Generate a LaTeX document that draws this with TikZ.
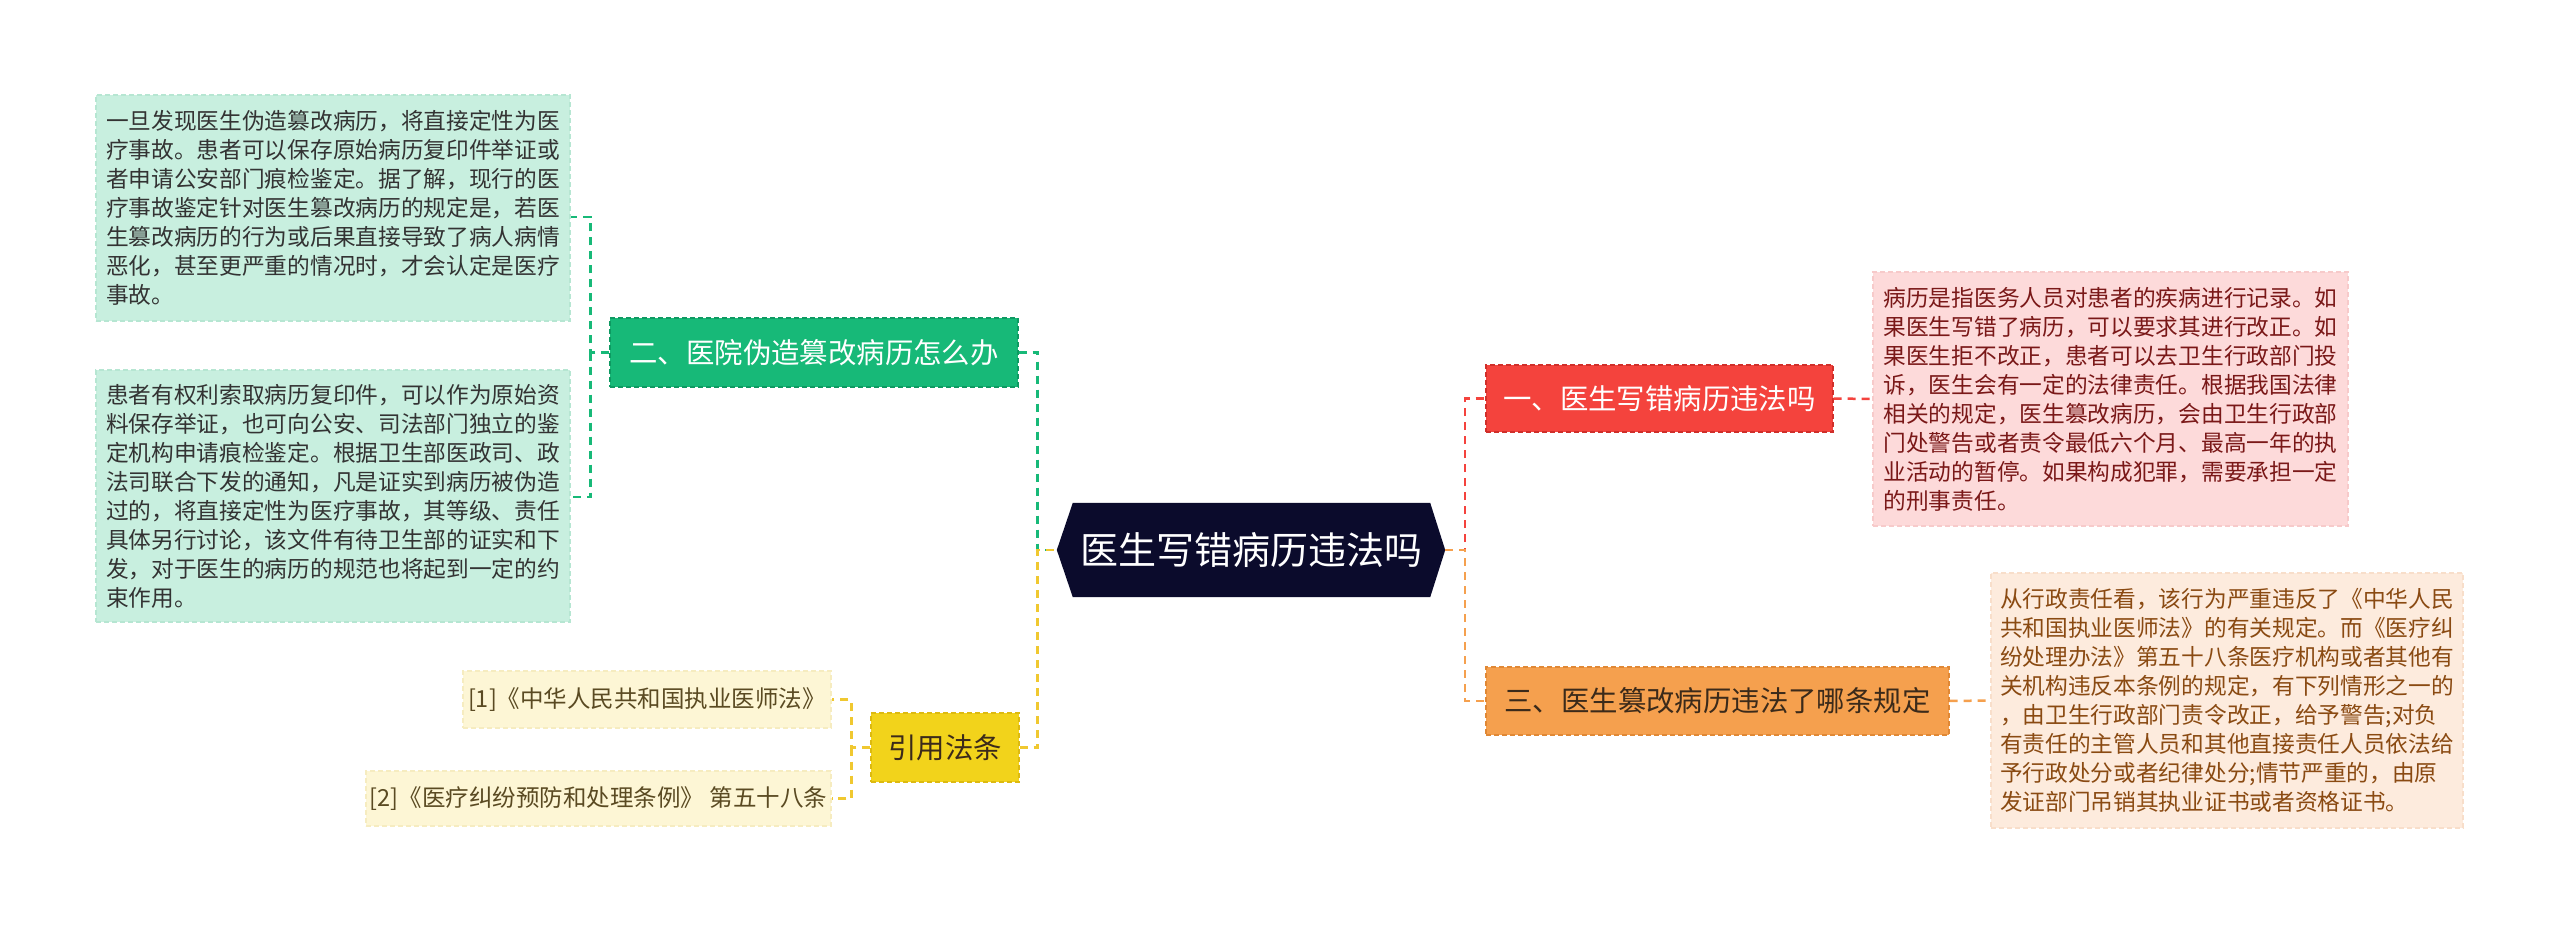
\documentclass[tikz,border=0pt]{standalone}
\usepackage{fontspec}
\newfontfamily\cjk{Noto Sans CJK SC}
\usetikzlibrary{backgrounds}
\definecolor{gleaf}{HTML}{C8EFDF}
\definecolor{gleafb}{HTML}{B6E6D2}
\definecolor{gmain}{HTML}{17B978}
\definecolor{gmainb}{HTML}{0E9A62}
\definecolor{navy}{HTML}{0B0B2C}
\definecolor{rmain}{HTML}{F4433D}
\definecolor{rmainb}{HTML}{D02F2A}
\definecolor{rleaf}{HTML}{FDDADA}
\definecolor{rleafb}{HTML}{F7CACA}
\definecolor{rtext}{HTML}{7A1818}
\definecolor{omain}{HTML}{F5A04E}
\definecolor{omainb}{HTML}{E08835}
\definecolor{oleaf}{HTML}{FDEBDD}
\definecolor{oleafb}{HTML}{F8DECA}
\definecolor{otext}{HTML}{8A4A12}
\definecolor{odark}{HTML}{3B2A1A}
\definecolor{ymain}{HTML}{F2D31B}
\definecolor{ymainb}{HTML}{DDBA10}
\definecolor{yleaf}{HTML}{FDF6D5}
\definecolor{yleafb}{HTML}{F6ECC0}
\definecolor{ytext}{HTML}{5A4A22}
\definecolor{yline}{HTML}{F0C830}
\definecolor{txt}{HTML}{333333}
\begin{document}
\begin{tikzpicture}[x=1pt,y=-1pt,
  base/.style={rectangle, inner sep=0pt, line width=1.3pt, dash pattern=on 5pt off 3pt},
  leaf/.style={base, align=left, font=\cjk\fontsize{22.7pt}{29pt}\selectfont},
  branch/.style={base, font=\cjk\fontsize{28.4pt}{30pt}\selectfont},
  refleaf/.style={base, font=\cjk\fontsize{23.5pt}{26pt}\selectfont},
  conn/.style={line width=2.5pt, dash pattern=on 8pt off 6pt},
]
\useasboundingbox (0,0) rectangle (2560,925);

% center
\node[inner sep=0pt, minimum width=357pt, minimum height=94pt, text=white,
      font=\cjk\fontsize{38pt}{40pt}\selectfont] (c) at (1251.5,550) {医生写错病历违法吗};
\coordinate (cl) at ([xshift=-16pt]c.west);
\coordinate (cr) at ([xshift=15pt]c.east);
\begin{scope}[on background layer]
\fill[white] (0,0) rectangle (2560,925);
\fill[navy] (cl) -- (c.north west) -- (c.north east) -- (cr) -- (c.south east) -- (c.south west) -- cycle;
\end{scope}

% left green
\node[branch, fill=gmain, draw=gmainb, text=white, minimum width=408pt, minimum height=69pt] (gb) at (814,352.5) {二、医院伪造篡改病历怎么办};
\node[leaf, fill=gleaf, draw=gleafb, text=txt, minimum width=474pt, minimum height=226pt] (g1) at (333,208) {一旦发现医生伪造篡改病历，将直接定性为医\\
疗事故。患者可以保存原始病历复印件举证或\\
者申请公安部门痕检鉴定。据了解，现行的医\\
疗事故鉴定针对医生篡改病历的规定是，若医\\
生篡改病历的行为或后果直接导致了病人病情\\
恶化，甚至更严重的情况时，才会认定是医疗\\
事故。};
\node[leaf, fill=gleaf, draw=gleafb, text=txt, minimum width=474pt, minimum height=252pt] (g2) at (333,496) {患者有权利索取病历复印件，可以作为原始资\\
料保存举证，也可向公安、司法部门独立的鉴\\
定机构申请痕检鉴定。根据卫生部医政司、政\\
法司联合下发的通知，凡是证实到病历被伪造\\
过的，将直接定性为医疗事故，其等级、责任\\
具体另行讨论，该文件有待卫生部的证实和下\\
发，对于医生的病历的规范也将起到一定的约\\
束作用。};

% left yellow
\node[branch, fill=ymain, draw=ymainb, text=odark, minimum width=148pt, minimum height=69pt] (yb) at (945,747.5) {引用法条};
\node[refleaf, fill=yleaf, draw=yleafb, text=ytext, minimum width=368pt, minimum height=57pt] (r1) at (647,699.5) {[1]《中华人民共和国执业医师法》};
\node[refleaf, fill=yleaf, draw=yleafb, text=ytext, minimum width=465pt, minimum height=55pt] (r2) at (598.5,798.5) {[2]《医疗纠纷预防和处理条例》 第五十八条};

% right red
\node[branch, fill=rmain, draw=rmainb, text=white, minimum width=347pt, minimum height=67pt] (rb) at (1659.5,398.5) {一、医生写错病历违法吗};
\node[leaf, fill=rleaf, draw=rleafb, text=rtext, minimum width=475pt, minimum height=254pt] (rl) at (2110.5,399) {病历是指医务人员对患者的疾病进行记录。如\\
果医生写错了病历，可以要求其进行改正。如\\
果医生拒不改正，患者可以去卫生行政部门投\\
诉，医生会有一定的法律责任。根据我国法律\\
相关的规定，医生篡改病历，会由卫生行政部\\
门处警告或者责令最低六个月、最高一年的执\\
业活动的暂停。如果构成犯罪，需要承担一定\\
的刑事责任。};

% right orange
\node[branch, fill=omain, draw=omainb, text=odark, minimum width=463pt, minimum height=68pt] (ob) at (1717.5,701) {三、医生篡改病历违法了哪条规定};
\node[leaf, fill=oleaf, draw=oleafb, text=otext, minimum width=472pt, minimum height=255pt] (ol) at (2227,700.5) {从行政责任看，该行为严重违反了《中华人民\\
共和国执业医师法》的有关规定。而《医疗纠\\
纷处理办法》第五十八条医疗机构或者其他有\\
关机构违反本条例的规定，有下列情形之一的\\
，由卫生行政部门责令改正，给予警告;对负\\
有责任的主管人员和其他直接责任人员依法给\\
予行政处分或者纪律处分;情节严重的，由原\\
发证部门吊销其执业证书或者资格证书。};

% connectors
\draw[conn, draw=gmain] (gb.east) -- ++(19,0) |- (cl);
\draw[conn, draw=gmain] (gb.west) -- ++(-19,0) coordinate (gj) |- ([yshift=-9pt]g1.east);
\draw[conn, draw=gmain] (gj) |- ([yshift=-1pt]g2.east);
\draw[conn, draw=yline] (yb.east) -- ++(18,0) |- (cl);
\draw[conn, draw=yline] (yb.west) -- ++(-19,0) coordinate (yj) |- (r1.east);
\draw[conn, draw=yline] (yj) |- (r2.east);
\draw[conn, draw=rmain] (cr) -- ++(20,0) |- (rb.west);
\draw[conn, draw=rmain] (rb.east) -- (rl.west);
\draw[conn, draw=omain] (cr) -- ++(20,0) |- (ob.west);
\draw[conn, draw=omain] (ob.east) -- (ol.west);
\end{tikzpicture}
\end{document}
